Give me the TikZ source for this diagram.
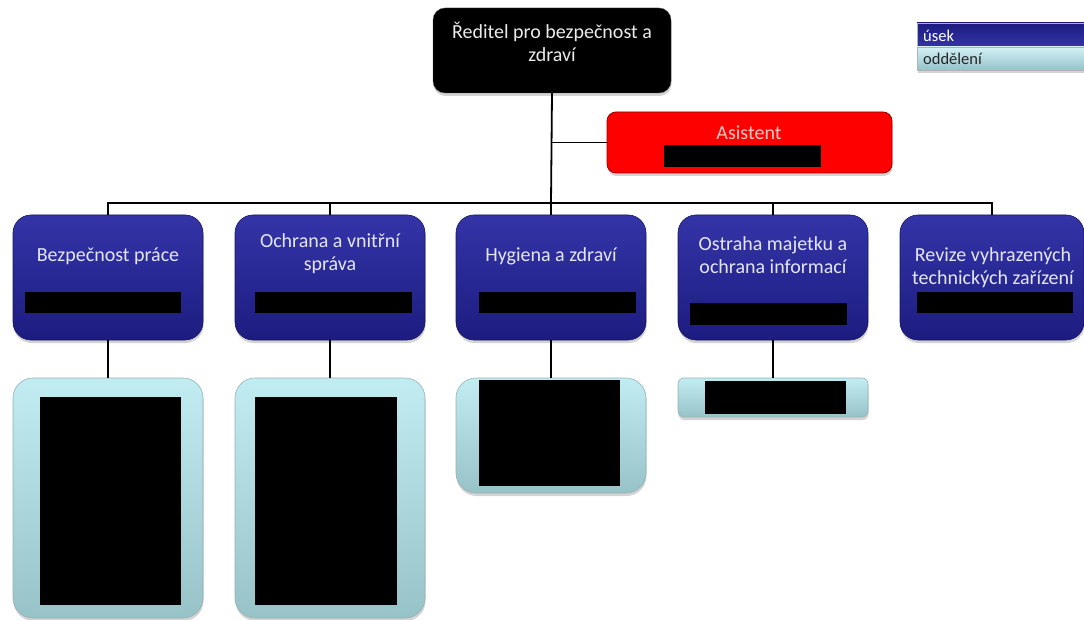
\documentclass[tikz,border=0pt]{standalone}
\usepackage{fontspec}
\setmainfont{Carlito}
\usetikzlibrary{shadows}
\definecolor{navyTop}{RGB}{52,52,168}
\definecolor{navyBot}{RGB}{28,28,128}
\definecolor{navyLine}{RGB}{22,22,95}
\definecolor{cyanTop}{RGB}{192,236,242}
\definecolor{cyanBot}{RGB}{150,194,200}
\definecolor{cyanLine}{RGB}{150,178,182}
\definecolor{boxText}{RGB}{228,230,245}
\definecolor{asText}{RGB}{255,200,200}
\definecolor{redLine}{RGB}{150,0,0}
\begin{document}
\begin{tikzpicture}[x=1pt,y=-1pt,
  box/.style={anchor=north west, inner sep=0pt, outer sep=0pt},
  shad/.style={drop shadow={shadow xshift=0.5pt, shadow yshift=-3pt, opacity=0.35}},
  unit/.style={box, shad, rounded corners=18pt, draw=navyLine, line width=0.6pt,
    top color=navyTop, bottom color=navyBot, minimum width=190pt, minimum height=125pt},
  dept/.style={box, shad, rounded corners=20pt, draw=cyanLine, line width=0.6pt,
    top color=cyanTop, bottom color=cyanBot, minimum width=190pt},
  bossbox/.style={box, shad, rounded corners=12pt, fill=black, draw=black!70},
  asbox/.style={box, shad, rounded corners=9pt, fill=red, draw=redLine, line width=0.8pt},
  redact/.style={box, fill=black},
  utext/.style={align=center, inner sep=0pt, text=boxText,
    font=\fontsize{20}{23}\selectfont},
  ltext/.style={anchor=west, inner sep=0pt, font=\fontsize{16.5}{19}\selectfont},
  conn/.style={draw=black, line width=1.8pt},
]
\useasboundingbox (0,0) rectangle (1084,620);

% director
\node[bossbox, minimum width=238pt, minimum height=85pt] (boss) at (433,8) {};
\node[utext, text=white!92!black] (bosst) at (552,42) {Ředitel pro bezpečnost a\\zdraví};
\node[redact, minimum width=157pt, minimum height=23pt] (rb) at (463,65) {};

% assistant
\node[asbox, minimum width=285pt, minimum height=61pt] (as) at (607,112) {};
\node[utext, text=asText] (ast) at (749,133) {Asistent};
\node[redact, minimum width=157pt, minimum height=22pt] (ra) at (664,145) {};

% units
\node[unit] (b1) at (13,215) {};
\node[unit] (b2) at (235,215) {};
\node[unit] (b3) at (456,215) {};
\node[unit] (b4) at (678,215) {};
\node[unit, minimum width=184pt] (b5) at (900,215) {};

\node[utext] (t1) at (108,256) {Bezpečnost práce};
\node[utext] (t2) at (330,254) {Ochrana a vnitřní\\správa};
\node[utext] (t3) at (551,256) {Hygiena a zdraví};
\node[utext] (t4) at (773,255) {Ostraha majetku a\\ochrana informací};
\node[utext] (t5) at (993,268) {Revize vyhrazených\\technických zařízení};

\node[redact, minimum width=156pt, minimum height=21pt] (r1) at (25,292) {};
\node[redact, minimum width=157pt, minimum height=21pt] (r2) at (255,292) {};
\node[redact, minimum width=157pt, minimum height=21pt] (r3) at (479,292) {};
\node[redact, minimum width=157pt, minimum height=22pt] (r4) at (690,303) {};
\node[redact, minimum width=156pt, minimum height=21pt] (r5) at (917,292) {};

% departments
\node[dept, minimum height=240pt] (l1) at (13,378) {};
\node[dept, minimum height=240pt] (l2) at (235,378) {};
\node[dept, minimum height=115pt] (l3) at (456,378) {};
\node[dept, rounded corners=6pt, minimum height=39pt] (l4) at (678,378) {};

\node[redact, minimum width=141pt, minimum height=208pt] (s1) at (40,397) {};
\node[redact, minimum width=142pt, minimum height=208pt] (s2) at (255,397) {};
\node[redact, minimum width=141pt, minimum height=106pt] (s3) at (479,380) {};
\node[redact, minimum width=141pt, minimum height=33pt] (s4) at (705,381) {};

% connectors
\coordinate (bus) at (551,203);
\draw[conn] (boss.south) -- (bus);
\draw[conn] (boss.south |- as.west) -- (as.west);
\foreach \b in {b1,b2,b3,b4,b5} {
  \draw[conn] (bus) -| (\b.north);
}
\draw[conn] (b1.south) -- (l1.north);
\draw[conn] (b2.south) -- (l2.north);
\draw[conn] (b3.south) -- (l3.north);
\draw[conn] (b4.south) -- (l4.north);

% legend
\node[box, shad, minimum width=170pt, minimum height=24pt, top color=navyBot, bottom color=navyTop, draw=gray!60] (lg1) at (917,23) {};
\node[box, shad, minimum width=170pt, minimum height=23pt, top color=cyanTop!70!white, bottom color=cyanBot, draw=gray!60] (lg2) at (917,47) {};
\node[ltext, text=white] (lgt1) at (923,36) {úsek};
\node[ltext, text=black!85] (lgt2) at (923,59) {oddělení};
\end{tikzpicture}
\end{document}
